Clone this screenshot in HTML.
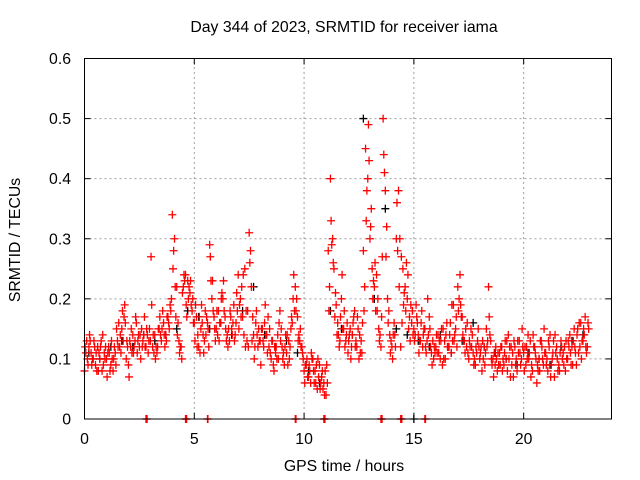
<!DOCTYPE html>
<html><head><meta charset="utf-8"><style>
html,body{margin:0;padding:0;background:#fff;}
svg{display:block;font-family:"Liberation Sans",sans-serif;}
</style></head><body>
<svg id="chart" width="640" height="480" viewBox="0 0 640 480" xmlns="http://www.w3.org/2000/svg">
<text x="344" y="32" font-size="15.8" text-anchor="middle" fill="#000">Day 344 of 2023, SRMTID for receiver iama</text>
<text x="344" y="471" font-size="15.8" text-anchor="middle" fill="#000">GPS time / hours</text>
<text x="20" y="240" font-size="15.8" text-anchor="middle" fill="#000" transform="rotate(-90 20 240)">SRMTID / TECUs</text>
<g id="grid"></g>
<g id="ticks"></g>
<g id="points"></g>
<rect x="84.5" y="58.5" width="527" height="360.5" fill="none" stroke="#000" stroke-width="1"/>
</svg>
<script>
const xTicks=[0,5,10,15,20];
const yTicks=[0,0.1,0.2,0.3,0.4,0.5,0.6];
const yTickLabels=["0","0.1","0.2","0.3","0.4","0.5","0.6"];
const seriesA=[8,13,12,11,10,9,12,10,8,11,10,12,9,8,11,13,12,15,17,10,9,12,14,13,11,12,15,14,12,11,13,12,14,11,15,13,16,14,17,19,34,30,22,13,12,22,24,23,21,18,16,17,12,15,14,18,16,29,20,17,15,18,16,20,17,14,13,15,19,16,24,20,17,25,13,31,22,14,16,12,13,15,16,14,12,10,9,11,14,18,12,9,11,13,15,20,22,17,13,12,8,9,7,6,10,8,5,9,7,6,4,28,40,30,17,14,12,20,15,13,11,15,14,18,12,10,13,28,45,40,30,25,22,24,15,12,50,38,20,14,12,16,30,38,12,25,22,20,17,16,15,19,14,13,12,15,13,17,11,10,12,14,10,9,13,16,12,11,19,15,22,24,17,13,12,10,15,11,9,13,10,8,12,15,22,13,10,9,8,11,12,9,10,14,7,11,12,8,13,10,11,9,14,13,8,12,6,10,13,9,11,8,14,10,7,12,9,13,11,8,10,14,12,15,9,11,16,13,17,12];
const seriesB=[12,10,14,9,13,11,8,12,14,10,7,11,13,10,9,12,14,18,19,13,7,15,11,17,13,14,12,17,15,13,27,14,10,12,17,15,14,13,16,18,25,22,14,11,10,24,19,20,23,20,13,12,17,19,11,14,15,27,23,15,18,13,20,23,15,12,18,14,13,21,15,17,24,12,18,26,13,10,18,15,9,13,19,11,15,13,8,12,10,13,10,12,14,10,17,24,18,13,15,11,6,10,9,11,8,6,10,5,8,4,9,18,33,26,21,16,13,24,18,14,13,10,16,12,17,14,11,18,33,49,32,20,26,18,13,17,44,27,16,11,10,14,36,22,27,19,18,24,13,18,13,17,11,16,14,12,20,15,9,12,14,11,13,15,10,12,14,19,13,17,18,19,14,11,16,13,12,9,12,15,11,13,9,12,17,10,7,12,11,9,8,11,13,10,12,7,9,13,11,15,8,12,10,7,14,11,9,8,12,15,9,13,7,11,14,10,8,12,9,13,13,11,9,12,14,16,10,15,12,16];
const seriesC=[11,9,13,10,12,8,11,13,9,12,11,8,10,12,15,16,11,13,16,12,13,11,12,16,14,10,13,12,14,15,19,11,12,15,14,18,12,17,15,20,28,17,16,12,21,23,17,22,19,16,19,14,11,16,13,17,12,23,18,13,14,16,21,18,13,15,17,16,14,18,19,22,14,18,12,28,17,12,14,13,15,12,14,17,11,13,12,10,16,15,11,14,9,12,16,18,20,14,12,10,9,7,8,10,6,9,7,6,5,8,6,22,29,25,19,14,17,15,12,16,14,12,17,13,15,11,16,22,38,43,35,23,18,20,14,27,41,32,18,13,14,12,28,30,16,21,26,15,19,14,14,16,13,18,15,11,14,12,13,11,11,13,15,10,14,12,16,13,14,12,20,17,13,15,11,12,14,10,11,12,12,10,11,13,14,9,11,10,9,12,10,13,8,12,9,13,10,11,9,12,12,10,11,9,12,10,8,13,10,11,10,12,9,13,11,8,11,10,12,10,12,9,13,11,15,12,13,14,11,15];
const seriesBlack=[11,10,12,13,12,14,13,14,15,18,17,15,16,14,18,22,14,12,13,11,8,6,18,15,14,50,20,35,15,14,13,12,14,11,13,16,12,11,10,9,11,10,9,12,13,14];
const zeroRedTimes=[2.8,2.85,4.6,4.62,4.65,5.6,5.62,9.6,9.63,10.9,10.92,10.95,13.5,13.52,13.55,14.4,14.42,14.45,15.5,15.53];
const zeroBlackTimes=[15.0];

const X0=84.5,X1=611.5,Y0=419,Y1=58.5,XMAX=24,YMAX=0.6;
const xs=t=>X0+(t/XMAX)*(X1-X0);
const ys=v=>Y0-(v/YMAX)*(Y0-Y1);
const NS="http://www.w3.org/2000/svg";
const grid=document.getElementById('grid'),ticks=document.getElementById('ticks'),pts=document.getElementById('points');
function mk(tag,attrs,parent){const e=document.createElementNS(NS,tag);for(const k in attrs)e.setAttribute(k,attrs[k]);parent.appendChild(e);return e;}
xTicks.forEach(t=>{
  const x=xs(t);
  if(t>0){const l=mk('line',{x1:x,y1:Y0,x2:x,y2:Y1,stroke:'#a0a0a0','stroke-dasharray':'2,3','stroke-width':1},grid);
  
  }
  mk('line',{x1:x,y1:Y0,x2:x,y2:Y0-6,stroke:'#000'},ticks);
  mk('line',{x1:x,y1:Y1,x2:x,y2:Y1+6,stroke:'#000'},ticks);
  const tx=mk('text',{x:x,y:444,'font-size':15.8,'text-anchor':'middle'},ticks);
  tx.textContent=String(t);
  
  
});
yTicks.forEach((v,i)=>{
  const y=ys(v);
  if(v>0&&v<0.6){const l=mk('line',{x1:X0,y1:y,x2:X1,y2:y,stroke:'#a0a0a0','stroke-dasharray':'2,3','stroke-width':1},grid);
  
  }
  mk('line',{x1:X0,y1:y,x2:X0+6,y2:y,stroke:'#000'},ticks);
  mk('line',{x1:X1,y1:y,x2:X1-6,y2:y,stroke:'#000'},ticks);
  const tx=mk('text',{x:71,y:y+5.5,'font-size':15.8,'text-anchor':'end'},ticks);
  tx.textContent=yTickLabels[i];
  
  
});
function plus(t,v,color,name){
  const x=xs(t),y=ys(v);
  const p=mk('path',{d:`M${x-4},${y}h8M${x},${y-4}v8`,stroke:color,'stroke-width':1.3,fill:'none'},pts);
  
  
}
seriesBlack.forEach((v,i)=>plus(i*0.5+0.2,v/100,'#000000','point-black'));
seriesA.forEach((v,i)=>plus(i*0.1,v/100,'#ff0000','point-red'));
seriesB.forEach((v,i)=>plus(i*0.1+0.03,v/100,'#ff0000','point-red'));
seriesC.forEach((v,i)=>plus(i*0.1+0.06,v/100,'#ff0000','point-red'));
zeroRedTimes.forEach(t=>plus(t,0,'#ff0000','zero-point-red'));
zeroBlackTimes.forEach(t=>plus(t,0,'#000000','zero-point-black'));
</script>
</body></html>
